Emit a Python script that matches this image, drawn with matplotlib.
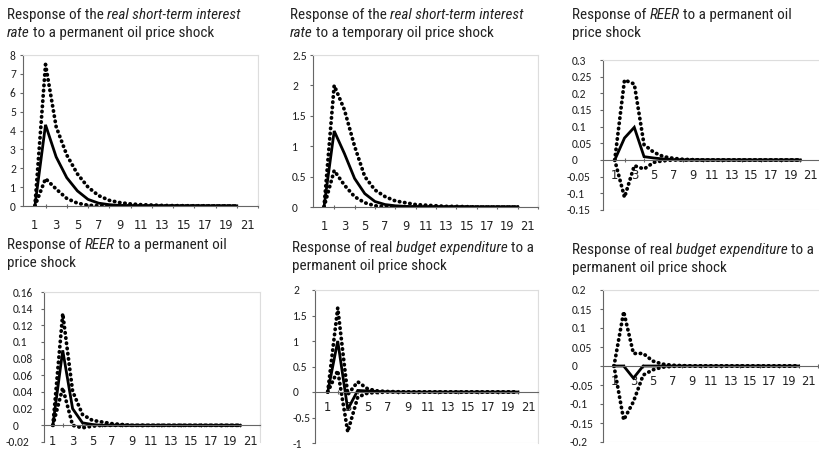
import matplotlib
matplotlib.use("Agg")
import matplotlib.pyplot as plt
from matplotlib import font_manager
from matplotlib.patches import Rectangle
from matplotlib.ticker import FuncFormatter
import numpy as np

# data: impulse responses, periods 1..20 (mid estimate, upper and lower bands)

PERIODS = list(range(1, 21))

RATE_PERM_MID = [0, 4.3, 2.6, 1.5, 0.8, 0.35, 0.15, 0.07, 0.03, 0.015, 0.01, 0.005, 0, 0, 0, 0, 0, 0, 0, 0]
RATE_PERM_UP = [0, 7.5, 4.2, 2.7, 1.7, 1.0, 0.55, 0.3, 0.18, 0.11, 0.07, 0.05, 0.03, 0.02, 0.015, 0.01, 0.01, 0.005, 0.005, 0]
RATE_PERM_LO = [0, 1.45, 0.9, 0.4, 0.15, 0.04, 0.01, 0, 0, 0, 0, 0, 0, 0, 0, 0, 0, 0, 0, 0]

RATE_TEMP_MID = [0, 1.25, 0.88, 0.47, 0.22, 0.09, 0.04, 0.02, 0.01, 0.005, 0, 0, 0, 0, 0, 0, 0, 0, 0, 0]
RATE_TEMP_UP = [0, 2.0, 1.6, 1.0, 0.5, 0.28, 0.17, 0.1, 0.07, 0.04, 0.03, 0.02, 0.01, 0.01, 0.005, 0, 0, 0, 0, 0]
RATE_TEMP_LO = [0, 0.6, 0.36, 0.17, 0.07, 0.02, 0.005, 0, 0, 0, 0, 0, 0, 0, 0, 0, 0, 0, 0, 0]

REER_A_MID = [0, 0.066, 0.098, 0.01, 0.006, 0.003, 0.001, 0, 0, 0, 0, 0, 0, 0, 0, 0, 0, 0, 0, 0]
REER_A_UP = [0, 0.24, 0.228, 0.046, 0.023, 0.01, 0.005, 0.002, 0.001, 0, 0, 0, 0, 0, 0, 0, 0, 0, 0, 0]
REER_A_LO = [0, -0.112, -0.017, -0.027, -0.007, -0.002, 0, 0, 0, 0, 0, 0, 0, 0, 0, 0, 0, 0, 0, 0]

REER_B_MID = [0, 0.09, 0.02, 0.003, 0.001, 0, 0, 0, 0, 0, 0, 0, 0, 0, 0, 0, 0, 0, 0, 0]
REER_B_UP = [0, 0.134, 0.041, 0.013, 0.006, 0.004, 0.002, 0.001, 0, 0, 0, 0, 0, 0, 0, 0, 0, 0, 0, 0]
REER_B_LO = [0, 0.045, 0.0, -0.003, -0.001, 0, 0, 0, 0, 0, 0, 0, 0, 0, 0, 0, 0, 0, 0, 0]

BUDGET_A_MID = [0, 1.0, -0.34, 0.03, 0.02, 0.01, 0.005, 0, 0, 0, 0, 0, 0, 0, 0, 0, 0, 0, 0, 0]
BUDGET_A_UP = [0, 1.65, -0.05, 0.2, 0.06, 0.02, 0.01, 0.005, 0, 0, 0, 0, 0, 0, 0, 0, 0, 0, 0, 0]
BUDGET_A_LO = [0, 0.42, -0.78, -0.1, -0.02, -0.01, 0, 0, 0, 0, 0, 0, 0, 0, 0, 0, 0, 0, 0, 0]

BUDGET_B_MID = [0, 0, -0.032, 0, 0, 0, 0, 0, 0, 0, 0, 0, 0, 0, 0, 0, 0, 0, 0, 0]
BUDGET_B_UP = [0, 0.143, 0.033, 0.033, 0.013, 0.005, 0.002, 0.001, 0, 0, 0, 0, 0, 0, 0, 0, 0, 0, 0, 0]
BUDGET_B_LO = [0, -0.142, -0.094, -0.024, -0.01, -0.003, -0.001, 0, 0, 0, 0, 0, 0, 0, 0, 0, 0, 0, 0, 0]

# titles: each line is a list of (text, italic)
TITLES = [
    [[("Response of the", False), ("real short-term interest", True)],
     [("rate", True), ("to a permanent oil price shock", False)]],
    [[("Response of the", False), ("real short-term interest", True)],
     [("rate", True), ("to a temporary oil price shock", False)]],
    [[("Response of", False), ("REER", True), ("to a permanent oil", False)],
     [("price shock", False)]],
    [[("Response of", False), ("REER", True), ("to a permanent oil", False)],
     [("price shock", False)]],
    [[("Response of real", False), ("budget expenditure", True), ("to a", False)],
     [("permanent oil price shock", False)]],
    [[("Response of real", False), ("budget expenditure", True), ("to a", False)],
     [("permanent oil price shock", False)]],
]

SERIES = [
    (RATE_PERM_MID, RATE_PERM_UP, RATE_PERM_LO),
    (RATE_TEMP_MID, RATE_TEMP_UP, RATE_TEMP_LO),
    (REER_A_MID, REER_A_UP, REER_A_LO),
    (REER_B_MID, REER_B_UP, REER_B_LO),
    (BUDGET_A_MID, BUDGET_A_UP, BUDGET_A_LO),
    (BUDGET_B_MID, BUDGET_B_UP, BUDGET_B_LO),
]

Y_TICKS = [
    [0, 1, 2, 3, 4, 5, 6, 7, 8],
    [0, 0.5, 1, 1.5, 2, 2.5],
    [-0.15, -0.1, -0.05, 0, 0.05, 0.1, 0.15, 0.2, 0.25, 0.3],
    [-0.02, 0, 0.02, 0.04, 0.06, 0.08, 0.1, 0.12, 0.14, 0.16],
    [-1, -0.5, 0, 0.5, 1, 1.5, 2],
    [-0.2, -0.15, -0.1, -0.05, 0, 0.05, 0.1, 0.15, 0.2],
]
X_LABELS = list(range(1, 22, 2))

# layout in pixels of the 820x449 canvas: (left, right, top, bottom, xmin, xmax)
W, H = 820, 449
AXES_PX = [
    (23, 258, 55, 206, -0.12, 21.9),
    (313, 538, 55, 207, -0.08, 22.0),
    (603, 820, 60, 210, -0.2, 22.0),
    (44, 260, 292, 442, 0.1, 21.7),
    (315, 538, 290, 443, -0.27, 22.0),
    (603, 820, 290, 442, -0.13, 22.2),
]
YLAB_LEFT_PX = [10, 292, 572, 13, 293, 572]   # left edge of y tick labels
NEG_HANG_PX = [0, 0, 5, 7, 0, 2]              # negative labels start further left
XLAB_PAD_PT = [9.0, 9.0, 6.5, 7.0, 6.5, 6.5]
TITLE_PX = [(7, 15), (290, 15), (572, 15), (7, 245), (292, 248), (572, 250)]
LINE_GAP = 18
TICK_LEN = 3


def pick_font(cands):
    names = {f.name for f in font_manager.fontManager.ttflist}
    for c in cands:
        if c in names:
            return c
    return "DejaVu Sans"


TITLE_FONT = pick_font(["Liberation Sans Narrow", "Roboto Condensed", "Open Sans Condensed", "Liberation Sans"])
TICK_FONT = pick_font(["Carlito", "Open Sans", "Liberation Sans"])

fig = plt.figure(figsize=(W / 100, H / 100), dpi=100)
renderer = fig.canvas.get_renderer()


def draw_title(x, y, lines, size=10.9):
    space = None
    for i, line in enumerate(lines):
        cx = x
        for txt, ital in line:
            t = fig.text(cx / W, 1 - (y + i * LINE_GAP) / H, txt, fontsize=size,
                         family=TITLE_FONT, style="italic" if ital else "normal",
                         color="#222222", va="center", ha="left")
            if space is None:
                a = fig.text(0, 0, "a a", fontsize=size, family=TITLE_FONT)
                b = fig.text(0, 0, "aa", fontsize=size, family=TITLE_FONT)
                space = a.get_window_extent(renderer).width - b.get_window_extent(renderer).width
                a.remove(); b.remove()
            cx += t.get_window_extent(renderer).width + space


for k, (mid, up, lo) in enumerate(SERIES):
    l, r, t, b, x0, x1 = AXES_PX[k]
    ax = fig.add_axes([l / W, 1 - b / H, (r - l) / W, (b - t) / H])
    ax.plot(PERIODS, up, color="black", lw=2.7, ls=(0, (0.1, 1.3)), dash_capstyle="round")
    ax.plot(PERIODS, lo, color="black", lw=2.7, ls=(0, (0.1, 1.3)), dash_capstyle="round")
    ax.plot(PERIODS, mid, color="black", lw=2.0, solid_joinstyle="miter")

    yt = Y_TICKS[k]
    ax.set_ylim(yt[0], yt[-1])
    ax.set_xlim(x0, x1)
    ax.set_yticks(yt)
    ax.yaxis.set_major_formatter(FuncFormatter(lambda v, p: f"{v:g}"))
    ax.set_xticks(range(2, 23, 2), labels=[""] * 11)
    ax.set_xticks(X_LABELS, labels=[str(v) for v in X_LABELS], minor=True)
    ax.tick_params(axis="x", which="major", length=3, direction="inout", color="#666666", width=0.8)
    ax.tick_params(axis="x", which="minor", length=0, pad=XLAB_PAD_PT[k], labelsize=8.3,
                   labelcolor="#222222")
    ypad = (l - YLAB_LEFT_PX[k] - TICK_LEN) * 0.72
    ax.tick_params(axis="y", length=TICK_LEN * 0.72, direction="out", color="#666666", width=0.8,
                   pad=ypad, labelsize=8.3, labelcolor="#222222")
    for lab in ax.get_xticklabels(minor=True):
        lab.set_family(TICK_FONT)
    for tick, v in zip(ax.yaxis.get_major_ticks(), yt):
        lab = tick.label1
        lab.set_family(TICK_FONT)
        lab.set_horizontalalignment("left")
        if v < 0:
            lab.set_x(-NEG_HANG_PX[k] / (r - l))

    ax.spines["bottom"].set_position(("data", 0))
    ax.spines["bottom"].set_color("#666666")
    ax.spines["left"].set_color("#666666")
    ax.spines["top"].set_color("#dddddd")
    ax.spines["right"].set_color("#dddddd")
    ax.add_patch(Rectangle((0, 0), 1, 1, transform=ax.transAxes, fill=False,
                           edgecolor="#dddddd", lw=0.8, zorder=0))
    ax.set_facecolor("white")

    draw_title(*TITLE_PX[k], TITLES[k])

fig.savefig("out.png", dpi=100)
